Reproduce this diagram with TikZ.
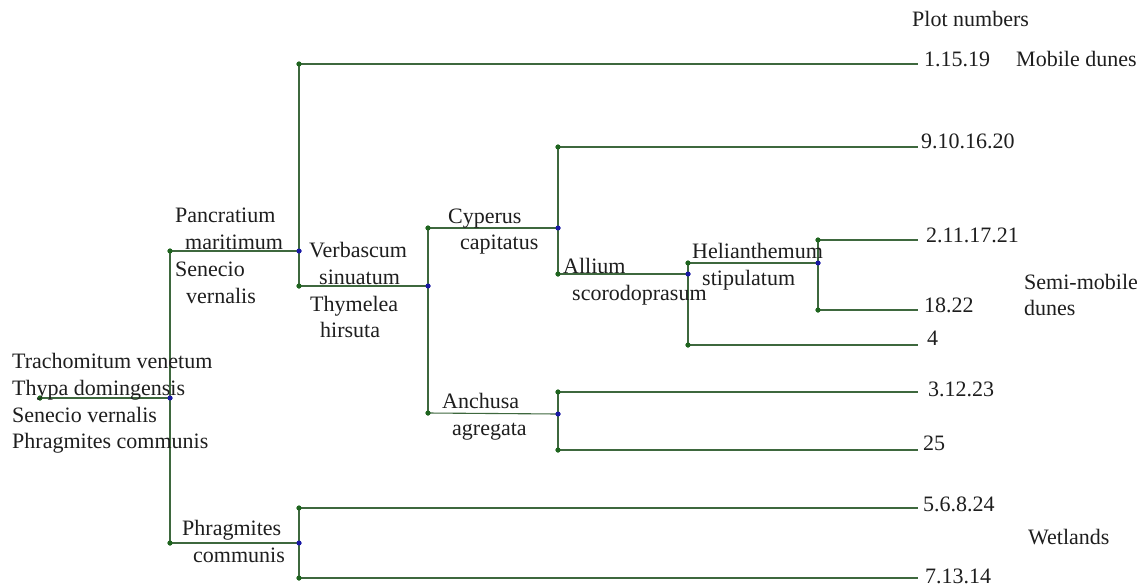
\documentclass[tikz,border=0pt]{standalone}
\usepackage{fontspec}
\setmainfont{Liberation Serif}
\definecolor{linegreen}{RGB}{62,104,62}
\definecolor{dotgreen}{RGB}{30,100,30}
\definecolor{dotblue}{RGB}{25,25,165}
\definecolor{txt}{RGB}{30,30,30}
\begin{document}
\begin{tikzpicture}[x=1pt,y=-1pt,
  gdot/.style={circle,fill=dotgreen,inner sep=0pt,minimum size=5pt},
  bdot/.style={circle,fill=dotblue,inner sep=0pt,minimum size=5pt},
  br/.style={draw=linegreen,line width=1.1pt},
  lbl/.style={anchor=base west,inner sep=0pt,text=txt,font=\fontsize{22}{27}\selectfont}]
\useasboundingbox[fill=white] (0,0) rectangle (1145,587);
% dots / junctions
\node[gdot] (root) at (40,398) {};
\node[bdot] (n1) at (170,398) {};
\node[gdot] (a) at (170,251) {};
\node[gdot] (p) at (170,543) {};
\node[bdot] (b) at (299,251) {};
\node[gdot] (t) at (299,64) {};
\node[gdot] (v) at (299,286) {};
\node[bdot] (c) at (428,286) {};
\node[gdot] (cy) at (428,228) {};
\node[gdot] (an) at (428,413) {};
\node[bdot] (d) at (558,228) {};
\node[gdot] (e1) at (558,147) {};
\node[gdot] (al) at (558,274) {};
\node[bdot] (f) at (688,274) {};
\node[gdot] (h) at (688,263) {};
\node[gdot] (g4) at (688,345) {};
\node[bdot] (i) at (818,263) {};
\node[gdot] (j1) at (818,240) {};
\node[gdot] (j2) at (818,310) {};
\node[bdot] (k) at (558,414) {};
\node[gdot] (k1) at (558,392) {};
\node[gdot] (k2) at (558,450) {};
\node[bdot] (q) at (299,543) {};
\node[gdot] (q1) at (299,508) {};
\node[gdot] (q2) at (299,578) {};
% free ends
\coordinate (x1) at (918,64);
\coordinate (x2) at (918,147);
\coordinate (x3) at (918,240);
\coordinate (x4) at (918,310);
\coordinate (x5) at (918,345);
\coordinate (x6) at (918,392);
\coordinate (x7) at (918,450);
\coordinate (x8) at (918,508);
\coordinate (x9) at (918,578);
% connectors
\begin{scope}[on background layer/.try]
\draw[br] (root.center) -- (n1.center);
\draw[br] (a.center) -- (p.center);
\draw[br] (a.center) -- (b.center);
\draw[br] (t.center) -- (v.center);
\draw[br] (t.center) -- (x1);
\draw[br] (v.center) -- (c.center);
\draw[br] (cy.center) -- (an.center);
\draw[br] (cy.center) -- (d.center);
\draw[br] (e1.center) -- (al.center);
\draw[br] (e1.center) -- (x2);
\draw[br] (al.center) -- (f.center);
\draw[br] (h.center) -- (g4.center);
\draw[br] (h.center) -- (i.center);
\draw[br] (j1.center) -- (j2.center);
\draw[br] (j1.center) -- (x3);
\draw[br] (j2.center) -- (x4);
\draw[br] (g4.center) -- (x5);
\draw[br] (an.center) -- (k.center);
\draw[br] (k1.center) -- (k2.center);
\draw[br] (k1.center) -- (x6);
\draw[br] (k2.center) -- (x7);
\draw[br] (p.center) -- (q.center);
\draw[br] (q1.center) -- (q2.center);
\draw[br] (q1.center) -- (x8);
\draw[br] (q2.center) -- (x9);
\end{scope}
% redraw dots on top
\foreach \n in {root,a,p,t,v,cy,an,e1,al,h,g4,j1,j2,k1,k2,q1,q2}
  \fill[dotgreen] (\n.center) circle (2.5pt);
\foreach \n in {n1,b,c,d,f,i,k,q}
  \fill[dotblue] (\n.center) circle (2.5pt);
% species labels
\node[lbl] (r1) at (12,368) {Trachomitum venetum};
\node[lbl] (r2) at (12,395) {Thypa domingensis};
\node[lbl] (r3) at (12,422) {Senecio vernalis};
\node[lbl] (r4) at (12,448) {Phragmites communis};
\node[lbl] (s1) at (175,222) {Pancratium};
\node[lbl] (s2) at (185,249) {maritimum};
\node[lbl] (s3) at (175,276) {Senecio};
\node[lbl] (s4) at (186,303) {vernalis};
\node[lbl] (s5) at (309,257) {Verbascum};
\node[lbl] (s6) at (319,284) {sinuatum};
\node[lbl] (s7) at (310,311) {Thymelea};
\node[lbl] (s8) at (320,337) {hirsuta};
\node[lbl] (s9) at (448,223) {Cyperus};
\node[lbl] (s10) at (460,249) {capitatus};
\node[lbl] (s11) at (563,273) {Allium};
\node[lbl] (s12) at (572,300) {scorodoprasum};
\node[lbl] (s13) at (692,258) {Helianthemum};
\node[lbl] (s14) at (702,285) {stipulatum};
\node[lbl] (s15) at (442,408) {Anchusa};
\node[lbl] (s16) at (452,435) {agregata};
\node[lbl] (s17) at (182,535) {Phragmites};
\node[lbl] (s18) at (193,562) {communis};
% plot labels
\node[lbl] (ph) at (912,26) {Plot numbers};
\node[lbl] (l1) at (924,66) {1.15.19};
\node[lbl] (m1) at (1016,66) {Mobile dunes};
\node[lbl] (l2) at (921,148) {9.10.16.20};
\node[lbl] (l3) at (926,242) {2.11.17.21};
\node[lbl] (l4) at (924,312) {18.22};
\node[lbl] (l5) at (927,345) {4};
\node[lbl] (m2) at (1024,289) {Semi-mobile};
\node[lbl] (m3) at (1024,315) {dunes};
\node[lbl] (l6) at (928,396) {3.12.23};
\node[lbl] (l7) at (923,450) {25};
\node[lbl] (l8) at (923,511) {5.6.8.24};
\node[lbl] (m4) at (1028,544) {Wetlands};
\node[lbl] (l9) at (925,583) {7.13.14};
\end{tikzpicture}
\end{document}
